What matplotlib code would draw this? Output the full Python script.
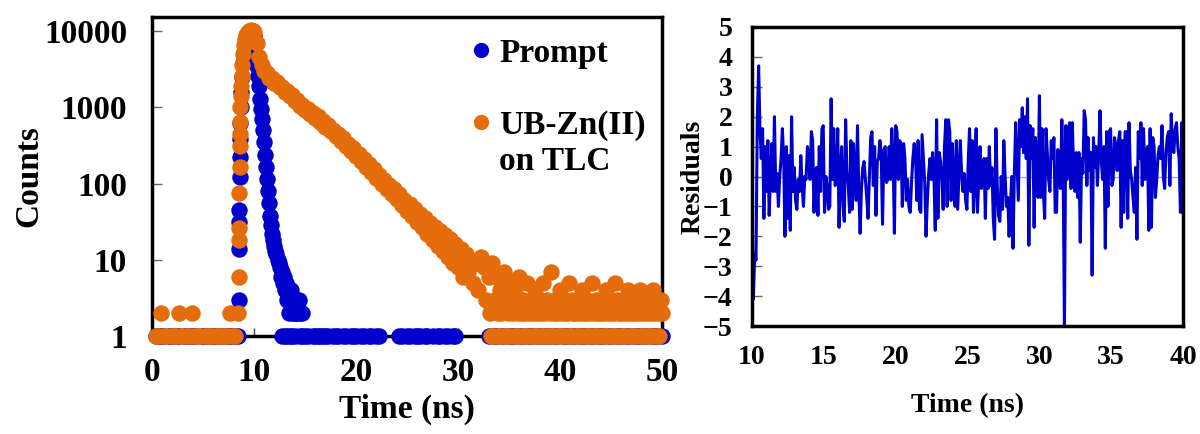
import numpy as np
import matplotlib.pyplot as plt
from matplotlib.lines import Line2D
from matplotlib.ticker import NullLocator

plt.rcParams['font.family'] = ['Liberation Serif', 'DejaVu Serif']
plt.rcParams['font.weight'] = 'bold'

BLUE = '#0000CC'
ORANGE = '#E46C0A'

# ---- decay data (counts per channel, zero-count channels are not shown on log axis) ----
# baseline before the pulse, 0.25 ns channels from 0.4 ns
base_time = np.arange(0.4, 8.2, 0.25)
prompt_base = [1, 1, 1, 1, 0, 1, 1, 1, 1, 1, 0, 1, 1, 1, 1, 1,
               1, 0, 1, 1, 1, 1, 1, 1, 0, 1, 1, 1, 1, 1, 1, 1]
tlc_base = [1, 1, 2, 1, 1, 0, 1, 1, 1, 2, 1, 0, 1, 1, 2, 1,
            1, 1, 0, 1, 1, 1, 1, 0, 1, 1, 1, 1, 1, 2, 1, 1]

# rising edge
prompt_rise_time = [8.47, 8.50, 8.52, 8.54, 8.56, 8.58, 8.60, 8.63, 8.66, 8.70,
                    8.75, 8.82, 8.90, 9.00, 9.12, 9.25, 9.40, 9.55, 9.70, 9.85]
prompt_rise = [1, 3, 14, 31, 45, 123, 225, 380, 620, 1000,
               1600, 2500, 3800, 5200, 6800, 8000, 9000, 9700, 10000, 9900]
tlc_rise_time = [8.47, 8.50, 8.52, 8.54, 8.56, 8.58, 8.60, 8.62, 8.64, 8.67, 8.70,
                 8.74, 8.78, 8.83, 8.90, 9.00, 9.10, 9.25, 9.40, 9.55, 9.70, 9.85]
tlc_rise = [2, 6, 18, 26, 76, 166, 309, 440, 650, 1000, 1400,
            1900, 2600, 3600, 5000, 6500, 7800, 8900, 9600, 10000, 10200, 10000]

# prompt (IRF) fall
prompt_fall_time = [10.0, 10.1, 10.2, 10.3, 10.4, 10.5, 10.6, 10.7, 10.8, 10.9,
                    11.0, 11.1, 11.2, 11.3, 11.4, 11.5, 11.6, 11.7, 11.8, 11.9,
                    12.0, 12.1, 12.2, 12.3, 12.4, 12.5, 12.6, 12.7, 12.8, 12.9,
                    13.0, 13.1, 13.2, 13.3, 13.4, 13.5, 13.6, 13.7, 13.8, 13.9,
                    14.0, 14.1, 14.25, 14.4, 14.55, 14.7]
prompt_fall = [8500, 6500, 4800, 3500, 2600, 1900, 1300, 950, 700, 500,
               350, 240, 165, 115, 80, 55, 38, 29, 22, 18,
               15, 13, 12, 10, 9, 8, 6, 7, 5, 6,
               4, 5, 3, 4, 2, 3, 4, 2, 3, 2,
               3, 2, 2, 3, 2, 2]

# prompt background after the pulse, 0.25 ns channels from 12.75 ns
prompt_tail_time = np.arange(12.75, 50.01, 0.25)
prompt_tail = ([1, 1, 1, 1, 1, 1, 0, 1, 1, 1, 1, 0, 1, 1, 1, 1, 1] +
               [1, 1, 0, 1, 1, 1, 0, 1, 1, 0, 1, 1, 1, 0, 1, 1, 0, 1, 1, 0, 1, 1] +
               [0, 0, 0, 0, 0, 0, 0] +
               [1, 1, 0, 1, 1, 0, 1, 1, 1, 0, 1, 1, 0, 1, 0, 1, 1, 0, 1, 1, 0, 1, 1] +
               [0, 0, 0, 0, 0, 0, 0, 0, 0, 0, 0, 0] +
               [1, 0, 1, 1, 0, 1, 1, 0, 1, 1, 1, 0, 1, 1, 0, 1, 1, 1, 0, 1, 1, 0, 1,
                1, 1, 0, 1, 1, 0, 1, 1, 1, 0, 1, 1, 0, 1, 1, 1, 0, 1, 1, 0, 1, 1, 1,
                0, 1, 1, 0, 1, 1, 1, 0, 1, 1, 0, 1, 1, 1, 0, 1, 1, 0, 1, 1, 1, 0, 1])

# UB-Zn(II) on TLC decay, 0.25 ns channels from 10.0 ns
tlc_decay_time = np.arange(10.0, 33.01, 0.25)
tlc_decay = [9800, 7000, 4600, 3600, 3000, 2850, 2450, 2450, 2100, 2150,
             1820, 1850, 1580, 1630, 1390, 1440, 1220, 1260, 1050, 1080,
             920, 960, 810, 850, 720, 760, 640, 670, 560, 580,
             490, 500, 420, 440, 360, 390, 310, 330, 265, 290,
             230, 245, 195, 212, 165, 180, 140, 155, 118, 130,
             100, 112, 86, 96, 72, 84, 62, 72, 52, 61,
             44, 54, 38, 46, 31, 40, 27, 35, 22, 30,
             18, 27, 15, 24, 13, 21, 11, 19, 9, 16,
             8, 14, 6, 12, 7, 10, 5, 9, 4, 11,
             8, 3, 6]

# background of the TLC decay, 0.125 ns channels from 33.125 ns
tlc_tail_time = np.arange(33.125, 50.01, 0.125)
tlc_tail = [2, 1, 9, 1, 3, 6, 2, 1, 4, 2, 1, 7, 3, 1, 2, 5, 1,
            2, 3, 1, 4, 2, 1, 6, 2, 1, 3, 2, 1, 5, 1, 2, 3, 1,
            2, 4, 1, 2, 1, 3, 2, 1, 5, 2, 1, 3, 1, 2, 7, 1, 2,
            3, 1, 2, 1, 4, 2, 1, 3, 2, 1, 2, 5, 1, 3, 2, 1, 2,
            1, 3, 2, 1, 4, 2, 1, 2, 3, 1, 2, 1, 5, 2, 1, 3, 2,
            1, 2, 3, 1, 2, 1, 4, 2, 1, 3, 2, 1, 2, 5, 1, 3, 2,
            1, 2, 1, 3, 2, 1, 4, 2, 1, 3, 2, 1, 2, 3, 1, 2, 4,
            1, 2, 3, 1, 2, 1, 3, 2, 1, 4, 2, 1, 3, 2, 1, 3, 2]

# ---- residuals of the fit, 10-40 ns ----
residuals = [
    -1.0, -4.1, -2.6, -2.8, 2.0, 3.7, 1.6, 0.6, 1.6, -1.4,
    1.0, -0.5, 1.2, -1.3, 0.0, 1.1, -0.5, 2.0, -0.5, 0.1,
    -1.0, 0.0, 0.6, 1.6, 0.6, -2.0, 1.0, -1.4, 0.7, -1.8,
    2.0, -0.5, 0.3, -0.8, -1.1, -0.1, -0.5, 0.7, -0.3, -1.0,
    0.0, -0.1, 1.0, 0.6, -0.1, 1.5, 1.2, -1.2, 0.2, 0.3,
    -1.3, 1.0, -0.5, 1.6, 1.7, -1.2, 0.0, -0.3, -1.1, -1.0,
    2.6, -0.1, 1.6, -0.3, -0.2, 1.6, -1.7, 0.1, 1.0, -1.0,
    -1.5, 1.9, 0.2, -0.3, -1.2, 1.2, -1.1, 1.1, 0.1, -0.8,
    1.7, -0.5, -1.9, -0.4, 0.3, 0.5, -0.1, -0.7, -1.4, -0.1,
    1.3, 1.5, -0.3, 1.0, -1.3, 0.5, 0.6, 1.2, 0.7, -1.6,
    0.9, 1.0, -0.2, -0.1, 1.0, -0.1, 1.6, 0.6, -1.9, 1.7,
    1.5, -0.1, 1.2,
    1.1, -1.0, 1.1, 0.6, -0.8, -0.1, -1.0, -1.2, -0.2, 0.6,
    1.1, 0.7, -0.8, 1.2, -1.1, -1.2, 1.4, 0.6, -0.2, -2.0,
    -0.8, 0.1, 0.6, -0.1, 0.8, 0.0, -1.8, 1.9, -1.4, 0.8,
    0.5, -0.1, -1.1, 1.0, 1.9, -1.0, 1.9, 1.5, -0.8, 1.1,
    -0.1, -1.0, 1.2, -1.1, 0.1, 1.2, 0.1, -0.5, 0.1, -0.8,
    -1.1, 0.5, 1.6, -0.5, 1.2, -1.2, 0.0, 1.6, -1.2, -0.1,
    1.0, -0.4, 0.0, 0.6, -1.4, 0.6, -0.4, 1.0, -0.3, 0.3,
    -1.4, -2.1, 1.6, -0.3, -1.3, -1.5, 0.0, -1.1, 1.2, 0.0,
    -1.0, -0.7, -2.0, -1.0, 0.0, -2.4, 0.1, 1.8, 0.5, -0.8,
    1.9, 1.0, 2.3, 0.8, 2.0, 0.6, 2.6, -2.3, 1.7, 0.6,
    1.6, -1.7, 1.3, 0.2, -0.7,
    2.7, -0.7, 1.6, -0.5, -1.4, 1.6, 0.8, -0.1, -0.5, 1.2,
    0.6, 1.3, -1.2, -1.2, 0.9, -0.1, -0.4, 1.9, 0.2, -5.0,
    1.7, -0.1, 1.6, 1.8, -0.4, 1.8, 0.1, -0.5, 0.8, -0.7,
    0.8, -2.2, 0.6, 0.1, 2.2, 1.9, -0.3, 1.3, 0.2, 0.8,
    -3.3, 1.3, 0.3, 1.0, -0.3, 0.8, 2.2, 0.5, -0.1, 1.0,
    -2.4, 1.5, -1.0, 1.5, 1.6, -0.3, -0.1, 1.3, 1.0, 0.2,
    1.2, 1.5, -1.7, 1.2, -1.2, 1.5, 1.5, -1.4, 1.8, 0.2,
    -0.1, -0.7, -1.2, 0.3, -2.1, 1.5, 0.6, 1.8, -0.3, 1.6,
    -0.1, 0.8, 1.0, -1.8, 1.6, -1.7, 1.3, 1.0, -0.7, -0.1,
    0.7, 1.0, 0.6, 1.7, 0.0, -0.4, 0.8, 1.3, 1.5, -0.3,
    2.1, 1.0, 0.8, 1.6, 1.8, 1.0, 0.6, -1.2, 1.8, -1.2,
]
resid_time = np.linspace(10, 40, len(residuals))


def nonzero(times, counts):
    t = np.concatenate([np.asarray(x, float) for x in times])
    c = np.concatenate([np.asarray(x, float) for x in counts])
    keep = c > 0
    return t[keep], c[keep]


prompt_t, prompt_c = nonzero([base_time, prompt_rise_time, prompt_fall_time, prompt_tail_time],
                             [prompt_base, prompt_rise, prompt_fall, prompt_tail])
tlc_t, tlc_c = nonzero([base_time, tlc_rise_time, tlc_decay_time, tlc_tail_time],
                       [tlc_base, tlc_rise, tlc_decay, tlc_tail])

fig = plt.figure(figsize=(12, 4.34), dpi=100)
ax1 = fig.add_axes([0.1267, 0.2258, 0.425, 0.735])
ax2 = fig.add_axes([0.6267, 0.2488, 0.3592, 0.689])

# decay curves
ax1.scatter(prompt_t, prompt_c, s=140, color=BLUE, linewidths=0, zorder=3, clip_on=False)
ax1.scatter(tlc_t, tlc_c, s=140, color=ORANGE, linewidths=0, zorder=4, clip_on=False)
ax1.set_yscale('log')
ax1.set_xlim(0, 50)
ax1.set_ylim(1, 15300)
ax1.set_yticks([1, 10, 100, 1000, 10000], ['1', '10', '100', '1000', '10000'])
ax1.yaxis.set_minor_locator(NullLocator())
ax1.set_xticks([0, 10, 20, 30, 40, 50])
ax1.tick_params(axis='y', direction='in', length=7, width=1, color='#666666',
                labelsize=24, pad=18)
ax1.tick_params(axis='x', direction='in', length=6, width=1, color='#444444',
                labelsize=24, pad=15)
ax1.set_xlabel('Time (ns)', fontsize=24, fontweight='bold', labelpad=4)
ax1.set_ylabel('Counts', fontsize=24, fontweight='bold', labelpad=0)
for sp in ax1.spines.values():
    sp.set_linewidth(2.5)

handles = [Line2D([], [], ls='none', marker='o', ms=11, color=BLUE, mec='none'),
           Line2D([], [], ls='none'),
           Line2D([], [], ls='none', marker='o', ms=11, color=ORANGE, mec='none'),
           Line2D([], [], ls='none')]
labels = ['Prompt', '', 'UB-Zn(II)', 'on TLC']
ax1.legend(handles, labels, loc='upper left', bbox_to_anchor=(0.625, 0.935),
           frameon=False, prop={'size': 24, 'weight': 'bold'}, handlelength=0.6,
           handletextpad=0.25, labelspacing=0.15, borderpad=0, borderaxespad=0)

# residuals
ax2.axhline(0, color='#aaaaaa', lw=1, zorder=1)
ax2.plot(resid_time, residuals, color=BLUE, lw=2.2, zorder=2)
ax2.set_xlim(10, 40)
ax2.set_ylim(-5, 5)
ax2.set_yticks(range(-5, 6))
ax2.set_xticks(range(10, 41, 5))
ax2.tick_params(axis='y', direction='in', length=7, width=1, color='#666666',
                labelsize=20, pad=14)
ax2.tick_params(axis='x', length=0, labelsize=20, pad=14)
ax2.set_xlabel('Time (ns)', fontsize=20, fontweight='bold', labelpad=16)
ax2.set_ylabel('Residuals', fontsize=20, fontweight='bold', labelpad=-2)
for sp in ax2.spines.values():
    sp.set_linewidth(2.5)

fig.savefig('out.png', dpi=100)
